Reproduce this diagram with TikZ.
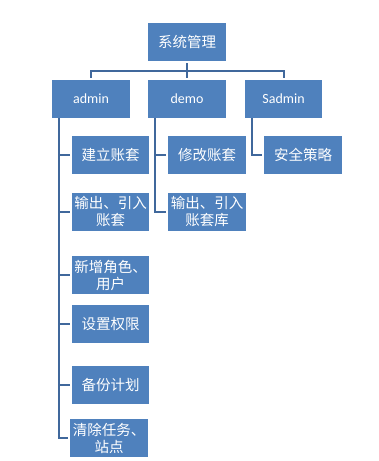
\documentclass[tikz,border=0pt]{standalone}
\usepackage{fontspec}
\usepackage{xcolor}
\setmainfont{Carlito}
\newfontfamily\cjk{Noto Sans CJK SC}
\usetikzlibrary{positioning}
\definecolor{nodeblue}{RGB}{79,129,189}
\definecolor{linkblue}{RGB}{64,104,156}

\begin{document}
\begin{tikzpicture}[
    x=1pt,y=-1pt,
    box/.style={rectangle,fill=nodeblue,text=white,inner sep=0pt,
      minimum width=78pt,minimum height=38pt,align=center,
      font=\cjk\fontsize{14.5}{17}\selectfont},
    rolebox/.style={box,font=\fontsize{14}{17}\selectfont},
    link/.style={draw=linkblue,line width=2pt}
  ]
    \useasboundingbox (0,0) rectangle (379,461);
    \node[box] (root) at (187,42) {系统管理};
    \node[rolebox] (admin) at (91,99) {admin};
    \node[rolebox] (demo) at (187,99) {demo};
    \node[rolebox,minimum width=77pt] (sadmin) at (283.5,99) {Sadmin};
    % admin
    \node[box,minimum width=77pt] (newset) at (110.5,155) {建立账套};
    \node[box,minimum width=77pt] (export) at (110.5,212) {输出、引入\\账套};
    \node[box,minimum width=77pt] (role) at (110.5,275) {新增角色、\\用户};
    \node[box,minimum width=77pt] (perm) at (110.5,324) {设置权限};
    \node[box,minimum width=77pt] (backup) at (110.5,384.5) {备份计划};
    \node[box] (clean) at (109,438) {清除任务、\\站点};
    % demo
    \node[box] (modify) at (207,155) {修改账套};
    \node[box] (exportlib) at (207,212) {输出、引入\\账套库};
    % Sadmin
    \node[box] (policy) at (303,155) {安全策略};
    \coordinate (bar) at (187,71);
    \draw[link,shorten <=2pt] (root.south) -- (root.south |- bar);
    \draw[link,shorten <=2pt,shorten >=2pt] (admin.north) -- (admin.north |- bar)
      -- (sadmin.north |- bar) -- (sadmin.north);
    \draw[link,shorten >=2pt] (bar) -- (demo.north);
    \foreach \n in {newset,export,role,perm,backup,clean}
      \draw[link,shorten >=2pt] ([xshift=7pt]admin.south west) |- (\n.west);
    \foreach \n in {modify,exportlib}
      \draw[link,shorten >=2pt] ([xshift=7pt]demo.south west) |- (\n.west);
    \draw[link,shorten >=2pt] ([xshift=7pt]sadmin.south west) |- (policy.west);
  \end{tikzpicture}
\end{document}
